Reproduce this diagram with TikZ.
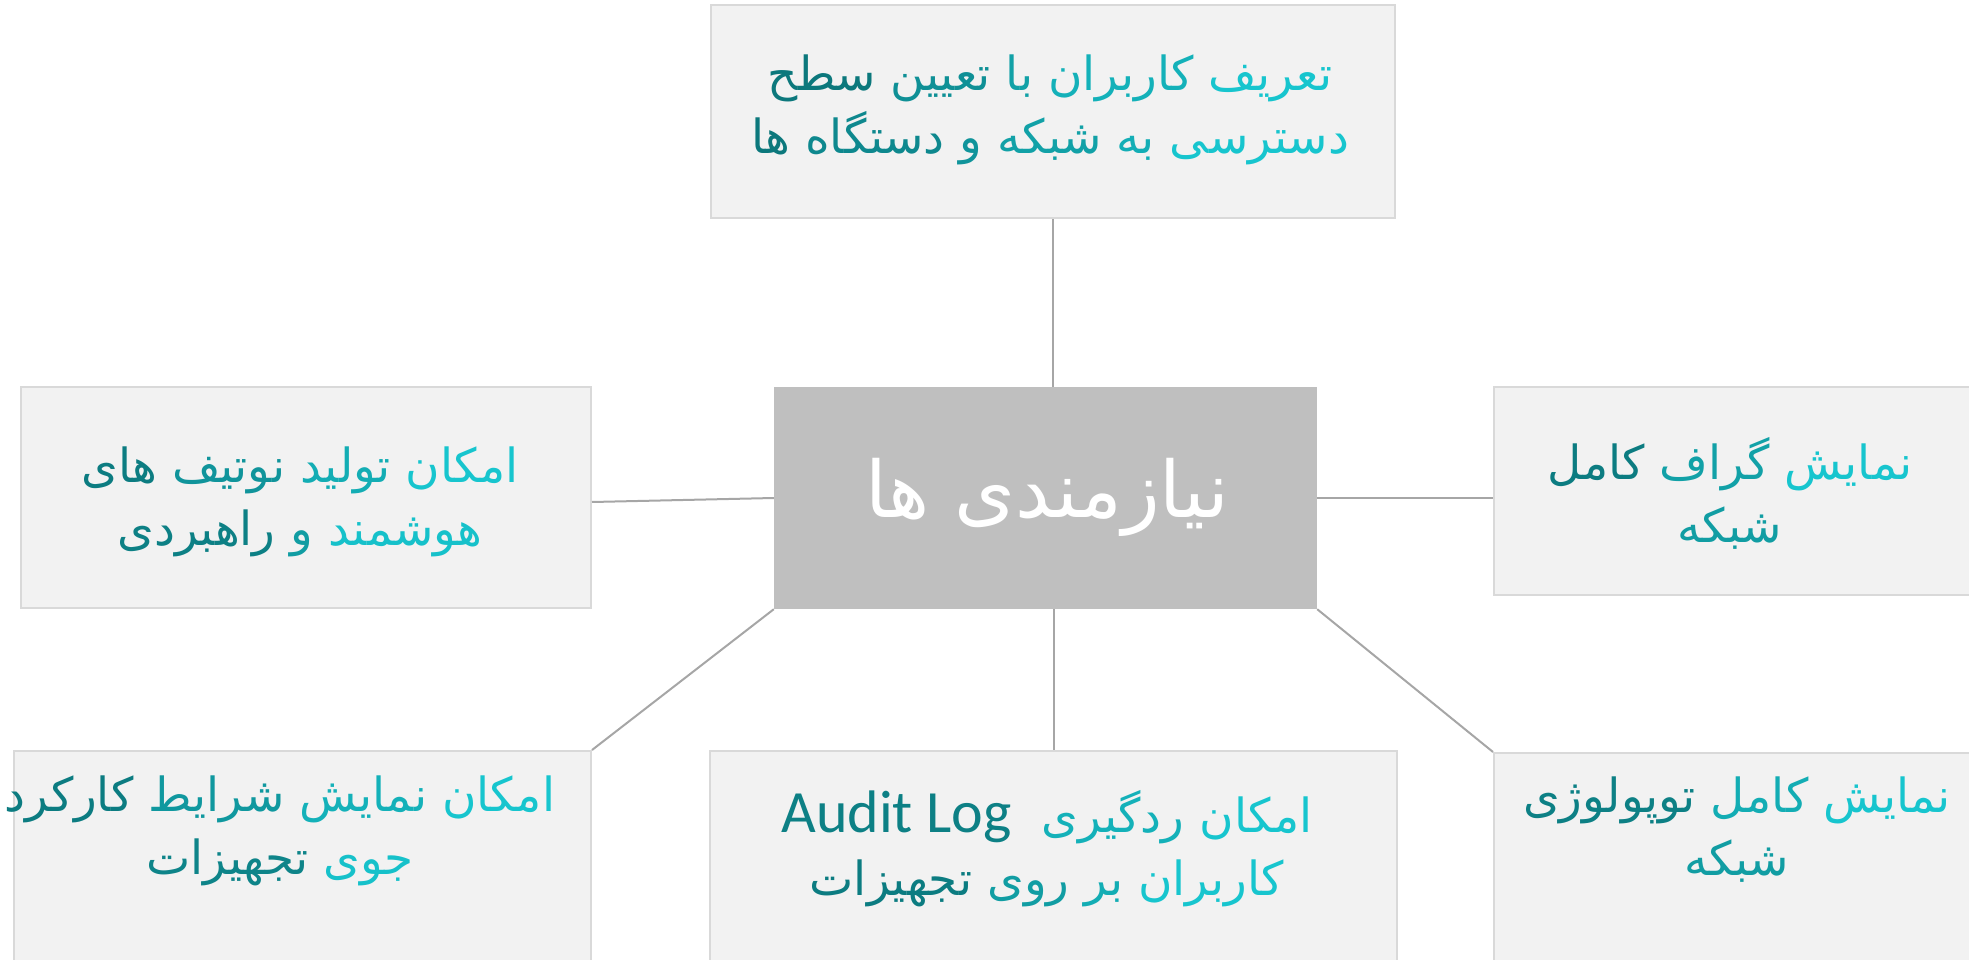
\documentclass[tikz,border=0pt]{standalone}
\usepackage{fontspec}
\TeXXeTstate=1
\newfontfamily\arabicfont[Script=Arabic]{DejaVu Sans}
\newfontfamily\latinfont{Carlito}
\definecolor{tl}{HTML}{17C5CE}
\definecolor{td}{HTML}{0B7478}
\definecolor{boxfill}{HTML}{F2F2F2}
\definecolor{boxline}{HTML}{D9D9D9}
\definecolor{hubfill}{HTML}{BFBFBF}
\definecolor{linkcol}{HTML}{A6A6A6}
% one word with its own shade; words are listed in visual order (left to right)
\newcommand\pw[2]{{\color{tl!#1!td}#2}}
\begin{document}
\begin{tikzpicture}[x=1pt,y=-1pt,
  box/.style={draw=boxline,line width=2pt,fill=boxfill,rectangle,inner sep=0pt},
  hub/.style={fill=hubfill,rectangle,inner sep=0pt},
  txt/.style={align=center,inner sep=0pt,font=\arabicfont\fontsize{47}{63}\selectfont},
  link/.style={draw=linkcol,line width=2pt}]
\useasboundingbox (0,0) rectangle (1969,960);
\clip (0,0) rectangle (1969,960);
% boxes
\node[box,minimum width=684pt,minimum height=213pt] (top) at (1053,111.5) {};
\node[hub,minimum width=543pt,minimum height=222pt] (hub) at (1045.5,498) {};
\node[box,minimum width=570pt,minimum height=221pt] (lft) at (306,497.5) {};
\node[box,minimum width=500pt,minimum height=208pt] (rgt) at (1744,491) {};
\node[box,minimum width=577pt,minimum height=230pt] (bl) at (302.5,866) {};
\node[box,minimum width=687pt,minimum height=230pt] (bm) at (1053.5,866) {};
\node[box,minimum width=500pt,minimum height=230pt] (br) at (1744,868) {};
% connectors
\draw[link] (top.south) -- (top.south |- hub.north);
\draw[link] (hub.west) -- ([yshift=-4.5pt]lft.east);
\draw[link] (hub.east) -- (rgt.west |- hub.east);
\draw[link] (hub.south west) -- (bl.north east);
\draw[link] (bm.north |- hub.south) -- (bm.north);
\draw[link] (hub.south east) -- (br.north west);
% texts
\node[txt] (topT) at (1050,109.5) {\pw{5}{سطح} \pw{35}{تعیین} \pw{55}{با} \pw{75}{کاربران} \pw{100}{تعریف}\\
\pw{5}{ها} \pw{25}{دستگاه} \pw{40}{و} \pw{55}{شبکه} \pw{72}{به} \pw{100}{دسترسی}};
\node[txt,text=white,font=\arabicfont\fontsize{78}{80}\selectfont] (hubT) at (1047,497) {\beginR نیازمندی ها\endR};
\node[txt] (lftT) at (300,502) {\pw{10}{های} \pw{40}{نوتیف} \pw{70}{تولید} \pw{100}{امکان}\\
\pw{15}{راهبردی} \pw{50}{و} \pw{95}{هوشمند}};
\node[txt] (rgtT) at (1730,493) {\pw{10}{کامل} \pw{55}{گراف} \pw{100}{نمایش}\\
\pw{50}{شبکه}};
\node[txt] (blT) at (280,831) {\pw{10}{کارکرد} \pw{45}{شرایط} \pw{75}{نمایش} \pw{100}{امکان}\\
\pw{20}{تجهیزات} \pw{95}{جوی}};
\node[txt] (bmT) at (1047,849) {\pw{15}{\latinfont\fontsize{60}{63}\selectfont Audit Log}\ \ \pw{75}{ردگیری} \pw{100}{امکان}\\
\pw{10}{تجهیزات} \pw{50}{روی} \pw{70}{بر} \pw{100}{کاربران}};
\node[txt] (brT) at (1737,830) {\pw{15}{توپولوژی} \pw{70}{کامل} \pw{100}{نمایش}\\
\pw{50}{شبکه}};
\end{tikzpicture}
\end{document}
